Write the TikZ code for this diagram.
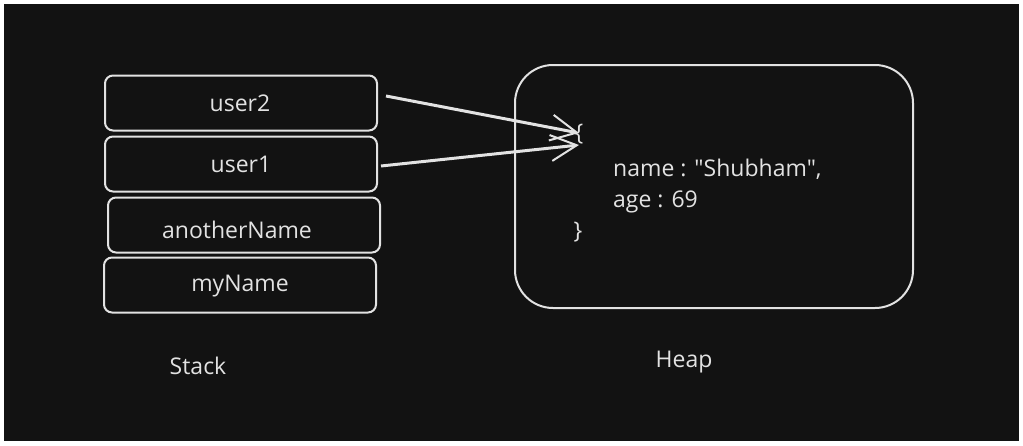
\documentclass[tikz,border=0pt]{standalone}
\usepackage{fontspec}
\setmainfont{Open Sans}[Ligatures=TeXOff]
\usetikzlibrary{arrows.meta}
\definecolor{bg}{HTML}{121212}
\definecolor{ink}{HTML}{E2E2E2}
\begin{document}
\begin{tikzpicture}[x=1pt,y=-1pt,
  cell/.style={draw=ink, line width=2pt, rounded corners=8pt, minimum width=272pt, minimum height=55pt, inner sep=0pt},
  lbl/.style={text=ink, font=\fontsize{23}{26}\selectfont, inner sep=0pt},
  ptr/.style={draw=ink, line width=3pt, -{Straight Barb[length=26pt,width=26pt,line width=2pt]}}]
\useasboundingbox (0,0) rectangle (1023,445);
\fill[white] (0,0) rectangle (1023,445);
\fill[bg] (4,4) rectangle (1019,441);
% stack cells
\node[cell] (u2) at (241,103) {};
\node[cell] (u1) at (241,164) {};
\node[cell] (an) at (244,225) {};
\node[cell] (mn) at (240,285) {};
\node[lbl] (tu2) at (240,103) {user2};
\node[lbl] (tu1) at (241,164) {user1};
\node[lbl] (tan) at (237,230) {anotherName};
\node[lbl] (tmn) at (240,286) {myName};
% heap
\node[draw=ink, line width=2pt, rounded corners=38pt, minimum width=398pt, minimum height=243pt] (heap) at (714,186.5) {};
\node[lbl] (lb) at (579,134) {\{};
\node[lbl, anchor=base west] (l1) at (613,176) {name : "Shubham",};
\node[lbl, anchor=base west] (l2) at (613,207) {age : 69};
\node[lbl] (rb) at (578,232) {\}};
% labels
\node[lbl] (stack) at (198,366) {Stack};
\node[lbl] (heaplbl) at (684,362) {Heap};
% pointers
\draw[ptr] ([xshift=8pt,yshift=7pt]u2.east) -- ([yshift=1pt]lb.center);
\draw[ptr] ([xshift=3pt,yshift=-2pt]u1.east) -- ([yshift=-11pt]lb.center);
\end{tikzpicture}
\end{document}
